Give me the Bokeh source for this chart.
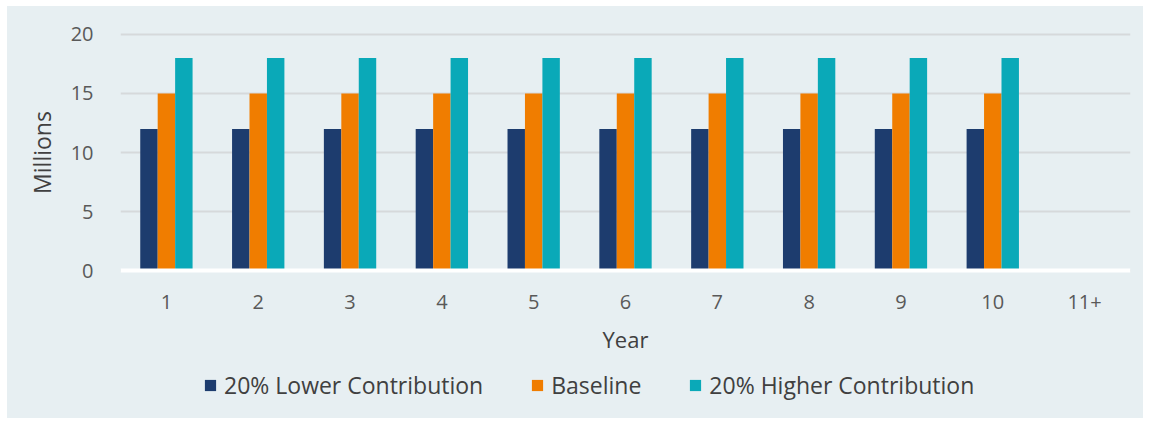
from bokeh.plotting import figure
from bokeh.layouts import column
from bokeh.models import ColumnDataSource, Range1d, Legend, LegendItem, Span, FactorRange
from bokeh.transform import dodge
from bokeh.embed import file_html
from bokeh.resources import INLINE

nan = float("nan")
years = ["1", "2", "3", "4", "5", "6", "7", "8", "9", "10", "11+"]
lower = [12, 12, 12, 12, 12, 12, 12, 12, 12, 12, nan]
baseline = [15, 15, 15, 15, 15, 15, 15, 15, 15, 15, nan]
higher = [18, 18, 18, 18, 18, 18, 18, 18, 18, 18, nan]
series_names = ["20% Lower Contribution", "Baseline", "20% Higher Contribution"]
colors = ["#1d3c6e", "#f07d00", "#0aa9b8"]

FONT = "Open Sans"
BG = "#e7eff2"

src = ColumnDataSource(dict(year=years, lower=lower, baseline=baseline, higher=higher))

p = figure(x_range=FactorRange(*years), y_range=Range1d(-0.25, 20.25),
           width=1136, height=354, output_backend="svg", toolbar_location=None,
           min_border_left=113, min_border_right=13, min_border_top=25, min_border_bottom=87)
p.background_fill_color = BG
p.border_fill_color = BG
p.outline_line_color = None

w = 0.19
for key, off, col in zip(["lower", "baseline", "higher"], [-w, 0, w], colors):
    p.vbar(x=dodge("year", off, range=p.x_range), top=key, bottom=0, width=w,
           source=src, fill_color=col, line_color=None)

p.add_layout(Span(location=0, dimension="width", line_color="white", line_width=4))

p.ygrid.grid_line_color = "#d6d9db"
p.ygrid.grid_line_width = 2
p.xgrid.grid_line_color = None

p.yaxis.ticker = [0, 5, 10, 15, 20]
for ax in (p.xaxis, p.yaxis):
    ax.axis_line_color = None
    ax.major_tick_line_color = None
    ax.minor_tick_line_color = None
    ax.major_label_text_font = FONT
    ax.major_label_text_font_size = "20px"
    ax.major_label_text_color = "#595959"
    ax.axis_label_text_font = FONT
    ax.axis_label_text_font_style = "normal"
    ax.axis_label_text_color = "#404040"
p.yaxis.axis_label_text_font_size = "23px"
p.xaxis.axis_label_text_font_size = "22px"
p.yaxis.major_label_standoff = 21
p.yaxis.axis_label = "Millions"
p.yaxis.axis_label_standoff = 10
p.xaxis.major_label_standoff = 15
p.xaxis.axis_label = "Year"
p.xaxis.axis_label_standoff = 12

# legend strip below the chart
lg = figure(width=1136, height=58, x_range=Range1d(0, 1), y_range=Range1d(0, 1),
            x_axis_type=None, y_axis_type=None, output_backend="svg", toolbar_location=None,
            min_border_left=113, min_border_right=13, min_border_top=0, min_border_bottom=0)
lg.background_fill_alpha = 0
lg.border_fill_color = BG
lg.outline_line_color = None
swatches = [lg.vbar(x=[nan], top=[nan], width=1, fill_color=c, line_color=None) for c in colors]
legend = Legend(items=[LegendItem(label=n, renderers=[r]) for n, r in zip(series_names, swatches)],
                orientation="horizontal", location=(83, 17),
                label_text_font=FONT, label_text_font_size="23px", label_text_color="#404040",
                glyph_width=14, glyph_height=14, label_standoff=7, spacing=47,
                background_fill_alpha=0, border_line_color=None, margin=0, padding=0)
lg.add_layout(legend, "center")

layout = column(p, lg, spacing=0)
layout.margin = (6, 8, 6, 7)
layout.styles = {"background-color": BG}

open("out.html", "w").write(file_html(layout, INLINE))
